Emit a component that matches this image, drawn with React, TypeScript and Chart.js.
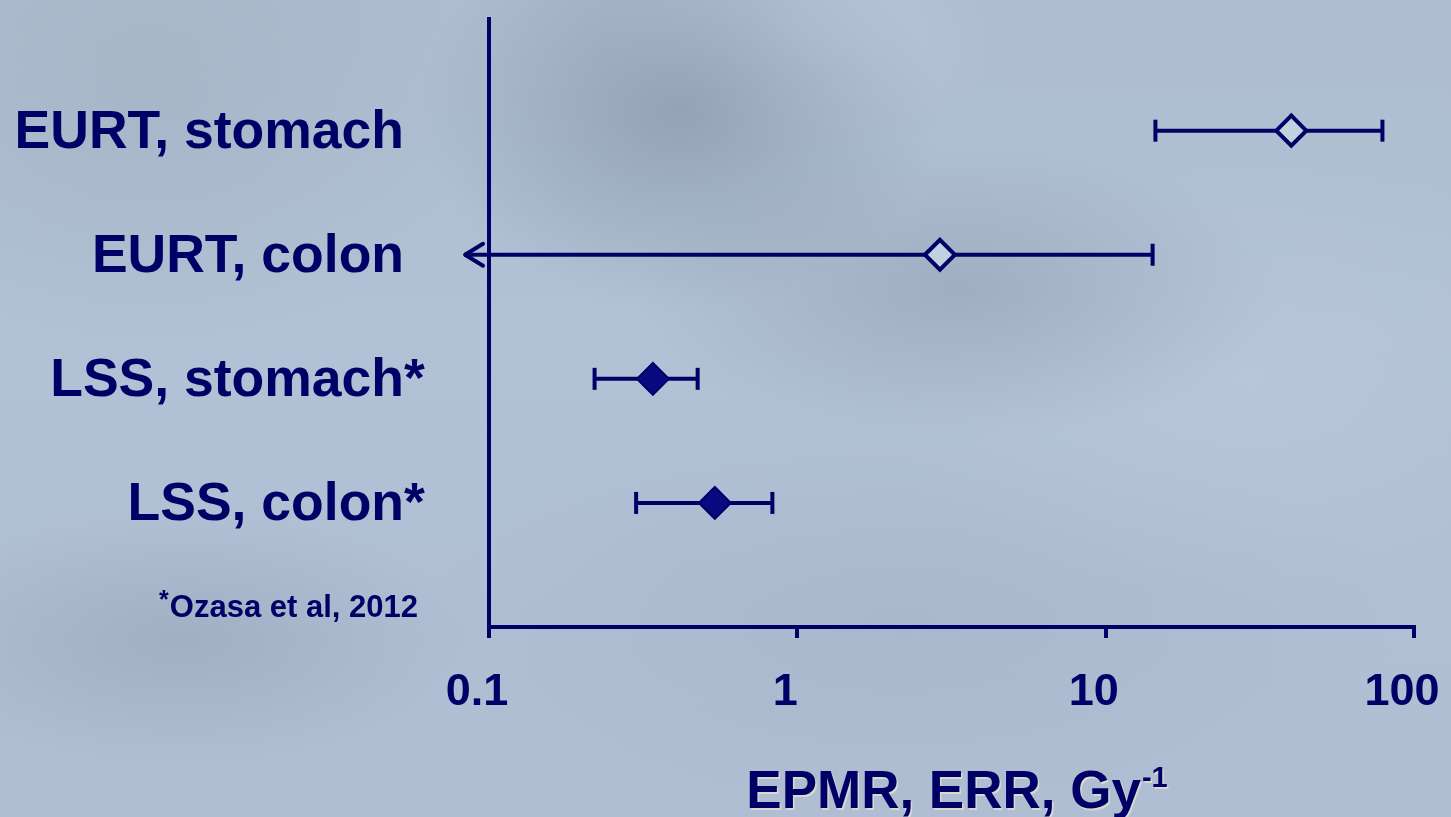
import React, { useEffect, useRef } from "react";
import { Chart, registerables } from "chart.js";

Chart.register(...registerables);

// ---- data ----
const categories = ["EURT, stomach", "EURT, colon", "LSS, stomach*", "LSS, colon*"];
const rowPositions = [4, 3, 2, 1];
const estimates = [40, 2.9, 0.34, 0.54];
const lowerCI = [14.5, 0.083, 0.22, 0.3];
const upperCI = [79, 14.2, 0.475, 0.83];
const lowerOpenEnded = [false, true, false, false];
const openMarker = [true, true, false, false];
const xTickValues = [0.1, 1, 10, 100];
const xTickLabels = ["0.1", "1", "10", "100"];
const xTitleMain = "EPMR, ERR, Gy";
const xTitleSup = "-1";
const footnoteMark = "*";
const footnoteText = "Ozasa et al, 2012";

const NAVY = "#000066";
const FONT = "'Liberation Sans', Arial, Helvetica, sans-serif";

const errorBarPlugin = {
  id: "errorBars",
  beforeDatasetsDraw(chart: any) {
    const { ctx, scales } = chart;
    const xs = scales.x;
    const ys = scales.y;
    ctx.save();
    ctx.strokeStyle = NAVY;
    ctx.lineWidth = 4;
    for (let i = 0; i < categories.length; i++) {
      const y = ys.getPixelForValue(rowPositions[i]);
      const x1 = xs.getPixelForValue(lowerCI[i]);
      const x2 = xs.getPixelForValue(upperCI[i]);
      ctx.lineCap = "butt";
      ctx.beginPath();
      ctx.moveTo(x1, y);
      ctx.lineTo(x2, y);
      ctx.stroke();
      ctx.beginPath();
      ctx.moveTo(x2, y - 11);
      ctx.lineTo(x2, y + 11);
      ctx.stroke();
      if (lowerOpenEnded[i]) {
        ctx.lineCap = "round";
        ctx.lineJoin = "round";
        ctx.beginPath();
        ctx.moveTo(x1 + 19, y - 11);
        ctx.lineTo(x1 + 1, y);
        ctx.lineTo(x1 + 19, y + 11);
        ctx.stroke();
      } else {
        ctx.beginPath();
        ctx.moveTo(x1, y - 11);
        ctx.lineTo(x1, y + 11);
        ctx.stroke();
      }
    }
    ctx.restore();
  },
};

const textPlugin = {
  id: "texts",
  afterDraw(chart: any) {
    const { ctx, scales, chartArea } = chart;
    const ys = scales.y;
    ctx.save();
    ctx.fillStyle = NAVY;
    ctx.textBaseline = "alphabetic";
    ctx.font = `bold 53.5px ${FONT}`;
    const rightX = chartArea.left - 85;
    for (let i = 0; i < categories.length; i++) {
      const y = ys.getPixelForValue(rowPositions[i]) + 17;
      let label = categories[i];
      let tail = "";
      if (label.endsWith("*")) {
        tail = "*";
        label = label.slice(0, -1);
      }
      ctx.textAlign = "right";
      ctx.fillText(label, rightX, y);
      if (tail) {
        ctx.textAlign = "left";
        ctx.fillText(tail, rightX, y);
      }
    }
    const fnY = chartArea.bottom - 10;
    ctx.font = `bold 31px ${FONT}`;
    ctx.textAlign = "right";
    const fnRight = chartArea.left - 71;
    ctx.fillText(footnoteText, fnRight, fnY);
    const fnW = ctx.measureText(footnoteText).width;
    ctx.font = `bold 25px ${FONT}`;
    ctx.textAlign = "right";
    ctx.fillText(footnoteMark, fnRight - fnW - 1, fnY - 9);
    ctx.shadowColor = "rgba(235,228,210,0.7)";
    ctx.shadowOffsetX = 1.5;
    ctx.shadowOffsetY = 1.5;
    ctx.font = `bold 53px ${FONT}`;
    const wm = ctx.measureText(xTitleMain).width;
    ctx.font = `bold 29px ${FONT}`;
    const wsup = ctx.measureText(xTitleSup).width;
    const cx = (chartArea.left + chartArea.right) / 2 + 5;
    const sx = cx - (wm + wsup) / 2;
    const baseY = 808;
    ctx.textAlign = "left";
    ctx.font = `bold 53px ${FONT}`;
    ctx.fillText(xTitleMain, sx, baseY);
    ctx.font = `bold 29px ${FONT}`;
    ctx.fillText(xTitleSup, sx + wm + 1, baseY - 21);
    ctx.restore();
  },
};

export default function App() {
  const canvasRef = useRef<HTMLCanvasElement | null>(null);

  useEffect(() => {
    const canvas = canvasRef.current;
    if (!canvas) return;
    const openIdx = categories.map((_, i) => i).filter((i) => openMarker[i]);
    const filledIdx = categories.map((_, i) => i).filter((i) => !openMarker[i]);
    const chart = new Chart(canvas, {
      type: "scatter",
      data: {
        datasets: [
          {
            label: "EURT",
            data: openIdx.map((i) => ({ x: estimates[i], y: rowPositions[i] })),
            pointStyle: "rectRot",
            pointRadius: 15,
            pointBackgroundColor: "#bed3df",
            pointBorderColor: NAVY,
            pointBorderWidth: 4,
          },
          {
            label: "LSS",
            data: filledIdx.map((i) => ({ x: estimates[i], y: rowPositions[i] })),
            pointStyle: "rectRot",
            pointRadius: 16,
            pointBackgroundColor: "#0a0a80",
            pointBorderColor: NAVY,
            pointBorderWidth: 2,
          },
        ],
      },
      options: {
        responsive: false,
        animation: false,
        layout: { padding: { left: 0, right: 37, top: 12, bottom: 0 } },
        plugins: {
          legend: { display: false },
          tooltip: { enabled: false },
          title: { display: false },
        },
        scales: {
          x: {
            type: "logarithmic",
            min: 0.1,
            max: 100,
            position: "bottom",
            afterBuildTicks: (scale: any) => {
              scale.ticks = xTickValues.map((v) => ({ value: v }));
            },
            afterFit: (scale: any) => {
              scale.height = 817 - 627;
              scale.paddingLeft = 0;
              scale.paddingRight = 0;
            },
            grid: {
              display: true,
              drawOnChartArea: false,
              drawTicks: true,
              tickLength: 11,
              tickColor: NAVY,
              tickWidth: 4,
              color: NAVY,
              lineWidth: 4,
            },
            border: { display: true, color: NAVY, width: 4 },
            ticks: {
              autoSkip: false,
              maxRotation: 0,
              padding: 28,
              labelOffset: -12,
              color: NAVY,
              font: { family: FONT, size: 45, weight: "bold" },
              callback: (_v: any, index: number) => xTickLabels[index],
            },
          },
          y: {
            type: "linear",
            min: 0,
            max: 4.9,
            afterFit: (scale: any) => {
              scale.width = 489;
            },
            grid: { display: false },
            border: { display: true, color: NAVY, width: 4 },
            ticks: { display: false },
          },
        },
      } as any,
      plugins: [errorBarPlugin, textPlugin],
    });
    return () => chart.destroy();
  }, []);

  const bg = [
    "radial-gradient(ellipse 260px 200px at 680px 110px, rgba(138,154,172,0.75), rgba(138,154,172,0) 100%)",
    "radial-gradient(ellipse 320px 150px at 960px 290px, rgba(146,160,178,0.6), rgba(146,160,178,0) 100%)",
    "radial-gradient(ellipse 200px 120px at 800px 30px, rgba(190,204,222,0.7), rgba(190,204,222,0) 100%)",
    "radial-gradient(ellipse 330px 260px at 150px 90px, rgba(160,176,192,0.55), rgba(160,176,192,0) 100%)",
    "radial-gradient(ellipse 300px 130px at 180px 640px, rgba(150,164,184,0.6), rgba(150,164,184,0) 100%)",
    "radial-gradient(ellipse 380px 220px at 1250px 380px, rgba(186,200,220,0.6), rgba(186,200,220,0) 100%)",
    "radial-gradient(ellipse 500px 200px at 900px 620px, rgba(162,176,196,0.5), rgba(162,176,196,0) 100%)",
    "linear-gradient(180deg, #adbdcf 0%, #b2c2d6 40%, #afbed2 100%)",
  ].join(", ");

  return (
    <div
      style={{
        position: "absolute",
        left: 0,
        top: 0,
        width: 1451,
        height: 817,
        overflow: "hidden",
        background: bg,
      }}
    >
      <canvas ref={canvasRef} width={1451} height={817} style={{ display: "block" }} />
    </div>
  );
}
